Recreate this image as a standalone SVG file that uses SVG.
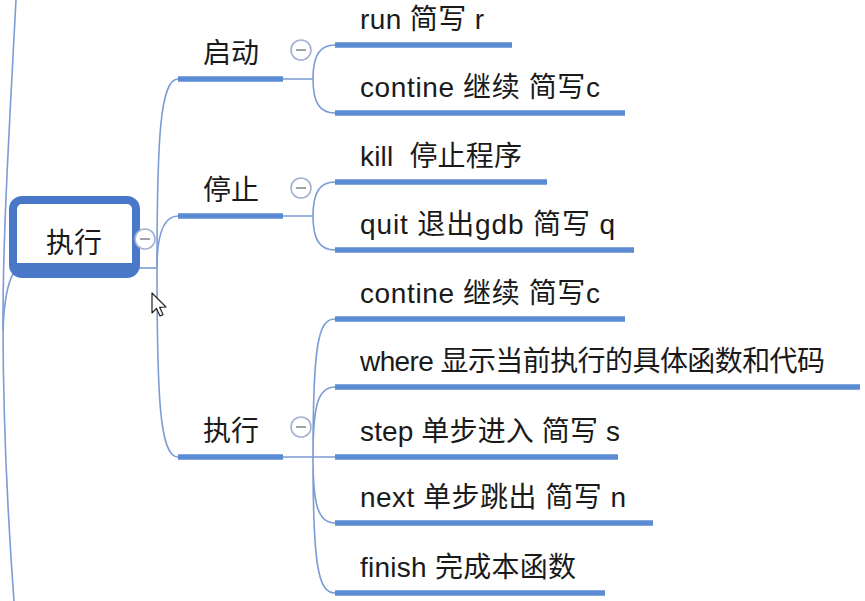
<svg xmlns="http://www.w3.org/2000/svg" width="865" height="601" viewBox="0 0 865 601">
<style>
text{font-family:"Liberation Sans","Noto Sans CJK SC",sans-serif;font-size:28px;fill:#1a1a1a;white-space:pre}
.bar{stroke:#5b8bd3;stroke-width:5.5;stroke-linecap:butt;fill:none}
.ln{stroke:#7b9cd6;stroke-width:1.6;fill:none}
.tog circle{fill:#fff;stroke:#a4b2d2;stroke-width:1.6}
.tog line{stroke:#a0a0a8;stroke-width:2}
</style>
<rect width="865" height="601" fill="#fff"/>
<g id="connectors">
<path class="ln" d="M16,0 C8,150 3,240 3,320 C3,420 8,520 14,601"/>
<path class="ln" d="M14,272 C8,282 4,300 3,330"/>
<path class="ln" d="M136,268 L157,268"/>
<path class="ln" d="M157,268 C157,140 160,79 178,79"/>
<path class="ln" d="M157,268 C157,232 164,216 178,216"/>
<path class="ln" d="M157,268 C157,400 160,457 178,457"/>
<path class="ln" d="M283,79 L313,79 M313,79 C313,55 320,45 335,45 M313,79 C313,103 320,113 335,113"/>
<path class="ln" d="M283,216 L313,216 M313,216 C313,192 320,182 335,182 M313,216 C313,240 320,250 335,250"/>
<path class="ln" d="M283,457 L335,457 M313,457 C313,345 318,319 335,319 M313,457 C313,405 318,387 335,387 M313,457 C313,505 318,523 335,523 M313,457 C313,565 318,593 335,593"/>
</g>
<g id="root">
<rect x="13" y="200" width="123" height="74" rx="9" fill="#fff" stroke="#4a78c8" stroke-width="8"/>
<rect x="16" y="263" width="117" height="8" fill="#4a78c8"/>
<text x="74" y="253" text-anchor="middle">执行</text>
<g class="tog"><circle cx="145" cy="239" r="10"/><line x1="140" y1="239" x2="150" y2="239"/></g>
</g>
<g id="n-qidong">
<line class="bar" x1="178" y1="79" x2="283" y2="79"/>
<text x="203" y="63">启动</text>
<g class="tog"><circle cx="301" cy="50" r="10"/><line x1="296" y1="50" x2="306" y2="50"/></g>
</g>
<g id="n-tingzhi">
<line class="bar" x1="178" y1="216" x2="283" y2="216"/>
<text x="203" y="200">停止</text>
<g class="tog"><circle cx="301" cy="188" r="10"/><line x1="296" y1="188" x2="306" y2="188"/></g>
</g>
<g id="n-zhixing">
<line class="bar" x1="178" y1="457" x2="283" y2="457"/>
<text x="203" y="441">执行</text>
<g class="tog"><circle cx="301" cy="427" r="10"/><line x1="296" y1="427" x2="306" y2="427"/></g>
</g>
<g id="n-run"><line class="bar" x1="335" y1="45" x2="512" y2="45"/><text x="360" y="29" textLength="124">run 简写 r</text></g>
<g id="n-contine1"><line class="bar" x1="335" y1="113" x2="625" y2="113"/><text x="360" y="97" textLength="240">contine 继续 简写c</text></g>
<g id="n-kill"><line class="bar" x1="335" y1="182" x2="547" y2="182"/><text x="360" y="166" xml:space="preserve" textLength="162">kill  停止程序</text></g>
<g id="n-quit"><line class="bar" x1="335" y1="250" x2="634" y2="250"/><text x="360" y="234" textLength="255">quit 退出gdb 简写 q</text></g>
<g id="n-contine2"><line class="bar" x1="335" y1="319" x2="625" y2="319"/><text x="360" y="303" textLength="240">contine 继续 简写c</text></g>
<g id="n-where"><line class="bar" x1="335" y1="387" x2="860" y2="387"/><text x="360" y="371" textLength="465">where 显示当前执行的具体函数和代码</text></g>
<g id="n-step"><line class="bar" x1="335" y1="457" x2="618" y2="457"/><text x="360" y="441" textLength="260">step 单步进入 简写 s</text></g>
<g id="n-next"><line class="bar" x1="335" y1="523" x2="653" y2="523"/><text x="360" y="507" textLength="266">next 单步跳出 简写 n</text></g>
<g id="n-finish"><line class="bar" x1="335" y1="593" x2="605" y2="593"/><text x="360" y="577" textLength="216">finish 完成本函数</text></g>
<path d="M152,293 L152,313 L156.5,308.5 L160,316 L163,314.6 L159.6,307.3 L166,307 Z" fill="#fff" stroke="#222" stroke-width="1.2" stroke-linejoin="round"/>
</svg>
